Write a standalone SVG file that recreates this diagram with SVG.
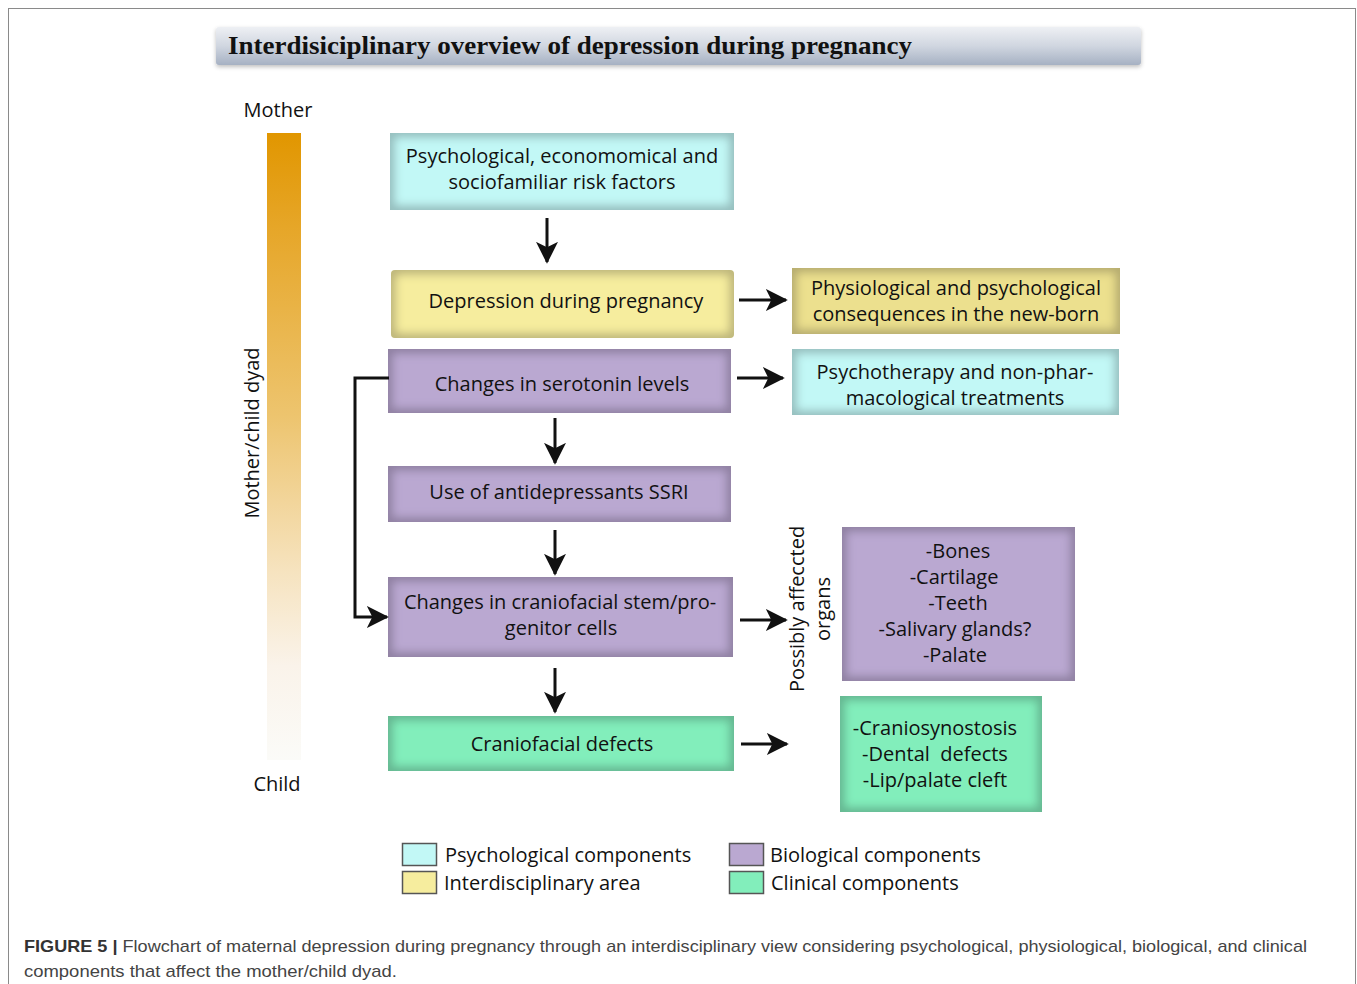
<svg xmlns="http://www.w3.org/2000/svg" width="1357" height="984" viewBox="0 0 1357 984">
<defs>
<style>
.t{font-family:"Open Sans","Noto Sans",sans-serif;font-size:20px;fill:#111;text-anchor:middle}
.lg{font-family:"Open Sans","Noto Sans",sans-serif;font-size:20px;fill:#111}
.cap{font-family:"Liberation Sans",Arial,sans-serif;font-size:17px;fill:#444}
.c{stroke:#111;stroke-width:3;fill:none}
.cyan{fill:#c2f8f6}
.yel{fill:#f6ed9e}
.yel2{fill:#ece08e}
.pur{fill:#baa8d1}
.grn{fill:#82eebb}
</style>
<linearGradient id="bar" x1="0" y1="0" x2="0" y2="1">
<stop offset="0" stop-color="#e19600"/>
<stop offset="0.15" stop-color="#e6a628"/>
<stop offset="0.45" stop-color="#edc46e"/>
<stop offset="0.7" stop-color="#f6e3bf"/>
<stop offset="0.85" stop-color="#faf3ea"/>
<stop offset="1" stop-color="#fbfbf8"/>
</linearGradient>
<linearGradient id="title" x1="0" y1="0" x2="0" y2="1">
<stop offset="0" stop-color="#eef0f4"/>
<stop offset="0.5" stop-color="#d0d6e0"/>
<stop offset="1" stop-color="#a6b1c3"/>
</linearGradient>
<filter id="inset" x="0" y="0" width="1" height="1">
<feMorphology in="SourceAlpha" operator="erode" radius="5" result="e"/>
<feGaussianBlur in="e" stdDeviation="4" result="eb"/>
<feComposite in="SourceAlpha" in2="eb" operator="out" result="edge"/>
<feFlood flood-color="#2a2030" flood-opacity="0.45" result="fl"/>
<feComposite in="fl" in2="edge" operator="in" result="sh"/>
<feMerge><feMergeNode in="SourceGraphic"/><feMergeNode in="sh"/></feMerge>
</filter>
<filter id="drop" x="-0.05" y="-0.3" width="1.1" height="1.8">
<feGaussianBlur in="SourceAlpha" stdDeviation="2"/>
<feOffset dy="2" result="d"/>
<feFlood flood-color="#000" flood-opacity="0.25"/>
<feComposite in2="d" operator="in"/>
<feMerge><feMergeNode/><feMergeNode in="SourceGraphic"/></feMerge>
</filter>
<marker id="ah" viewBox="0 0 12 12" refX="11" refY="6" markerWidth="22" markerHeight="22" markerUnits="userSpaceOnUse" orient="auto">
<path d="M0,0 L12,6 L0,12 L3,6 z" fill="#111"/>
</marker>
</defs>

<rect x="8.5" y="8.5" width="1347" height="990" fill="#fff" stroke="#8a8a8a" stroke-width="1"/>

<g id="title">
<rect x="216" y="27" width="925" height="38" rx="3" fill="url(#title)" filter="url(#drop)"/>
<text x="228" y="54" font-family="'Liberation Serif','DejaVu Serif',serif" font-weight="bold" font-size="26" fill="#111" textLength="684" lengthAdjust="spacingAndGlyphs">Interdisiciplinary overview of depression during pregnancy</text>
</g>

<g id="dyad">
<text x="278" y="117" class="lg" text-anchor="middle" font-size="21">Mother</text>
<rect x="267" y="133" width="34" height="627" fill="url(#bar)"/>
<text x="277" y="791" class="lg" text-anchor="middle" font-size="21">Child</text>
<text transform="translate(259,433) rotate(-90)" class="t" font-size="21">Mother/child dyad</text>
</g>

<g id="n1">
<rect x="390" y="133" width="344" height="77" class="cyan" filter="url(#inset)"/>
<text x="562" y="163" class="t">Psychological, economomical and</text>
<text x="562" y="189" class="t">sociofamiliar risk factors</text>
</g>
<g id="n2">
<rect x="391" y="270" width="343" height="68" rx="4" class="yel" filter="url(#inset)"/>
<text x="566" y="308" class="t">Depression during pregnancy</text>
</g>
<g id="n3">
<rect x="792" y="268" width="328" height="66" class="yel2" filter="url(#inset)"/>
<text x="956" y="295" class="t">Physiological and psychological</text>
<text x="956" y="321" class="t">consequences in the new-born</text>
</g>
<g id="n4">
<rect x="388" y="349" width="343" height="64" class="pur" filter="url(#inset)"/>
<text x="562" y="391" class="t">Changes in serotonin levels</text>
</g>
<g id="n5">
<rect x="792" y="349" width="327" height="66" class="cyan" filter="url(#inset)"/>
<text x="955" y="379" class="t">Psychotherapy and non-phar-</text>
<text x="955" y="405" class="t">macological treatments</text>
</g>
<g id="n6">
<rect x="388" y="466" width="343" height="56" class="pur" filter="url(#inset)"/>
<text x="559" y="499" class="t">Use of antidepressants SSRI</text>
</g>
<g id="n7">
<rect x="388" y="577" width="345" height="80" class="pur" filter="url(#inset)"/>
<text x="560" y="609" class="t">Changes in craniofacial stem/pro-</text>
<text x="561" y="635" class="t">genitor cells</text>
</g>
<g id="n8">
<text transform="translate(804,609) rotate(-90)" class="t" font-size="21">Possibly affeccted</text>
<text transform="translate(830,609) rotate(-90)" class="t" font-size="21">organs</text>
</g>
<g id="n9">
<rect x="842" y="527" width="233" height="154" class="pur" filter="url(#inset)"/>
<text x="958" y="558" class="t">-Bones</text>
<text x="954" y="584" class="t">-Cartilage</text>
<text x="958" y="610" class="t">-Teeth</text>
<text x="955" y="636" class="t">-Salivary glands?</text>
<text x="955" y="662" class="t">-Palate</text>
</g>
<g id="n10">
<rect x="388" y="716" width="346" height="55" class="grn" filter="url(#inset)"/>
<text x="562" y="751" class="t">Craniofacial defects</text>
</g>
<g id="n11">
<rect x="840" y="696" width="202" height="116" class="grn" filter="url(#inset)"/>
<text x="935" y="735" class="t">-Craniosynostosis</text>
<text x="935" y="761" class="t" xml:space="preserve">-Dental  defects</text>
<text x="935" y="787" class="t">-Lip/palate cleft</text>
</g>

<g id="connectors">
<line x1="547" y1="218" x2="547" y2="262" class="c" marker-end="url(#ah)"/>
<line x1="555" y1="418" x2="555" y2="463" class="c" marker-end="url(#ah)"/>
<line x1="555" y1="530" x2="555" y2="574" class="c" marker-end="url(#ah)"/>
<line x1="555" y1="668" x2="555" y2="712" class="c" marker-end="url(#ah)"/>
<line x1="739" y1="300" x2="786" y2="300" class="c" marker-end="url(#ah)"/>
<line x1="737" y1="378" x2="783" y2="378" class="c" marker-end="url(#ah)"/>
<line x1="740" y1="620" x2="786" y2="620" class="c" marker-end="url(#ah)"/>
<line x1="741" y1="744" x2="787" y2="744" class="c" marker-end="url(#ah)"/>
<polyline points="389,378 355,378 355,617 387,617" class="c" marker-end="url(#ah)"/>
</g>

<g id="legend">
<rect x="402.5" y="843.5" width="34" height="22" class="cyan" stroke="#555" stroke-width="1.5"/>
<rect x="402.5" y="871.5" width="34" height="22" class="yel" stroke="#555" stroke-width="1.5"/>
<rect x="729.5" y="843.5" width="34" height="22" class="pur" stroke="#555" stroke-width="1.5"/>
<rect x="729.5" y="871.5" width="34" height="22" class="grn" stroke="#555" stroke-width="1.5"/>
<text x="445" y="862" class="lg">Psychological components</text>
<text x="444" y="890" class="lg">Interdisciplinary area</text>
<text x="770" y="862" class="lg">Biological components</text>
<text x="771" y="890" class="lg">Clinical components</text>
</g>

<g id="caption">
<text x="24" y="952" class="cap" textLength="1283" lengthAdjust="spacingAndGlyphs"><tspan font-weight="bold" fill="#333">FIGURE 5 |</tspan> Flowchart of maternal depression during pregnancy through an interdisciplinary view considering psychological, physiological, biological, and clinical</text>
<text x="24" y="977" class="cap" textLength="373" lengthAdjust="spacingAndGlyphs">components that affect the mother/child dyad.</text>
</g>
</svg>
